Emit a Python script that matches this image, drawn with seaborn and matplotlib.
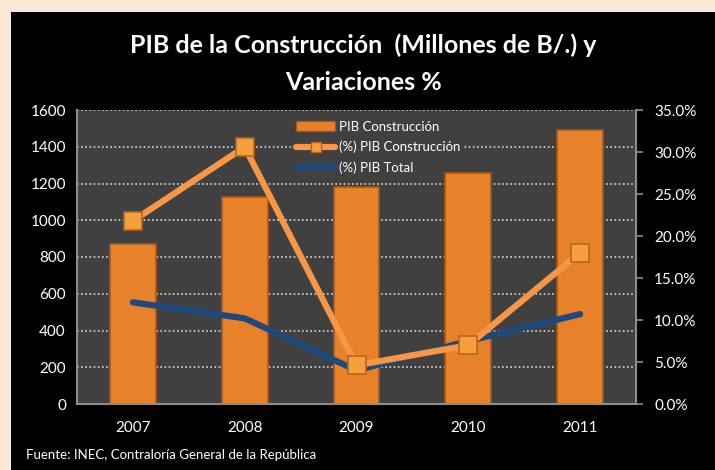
import matplotlib
matplotlib.use('Agg')
import matplotlib.pyplot as plt
import seaborn as sns
import pandas as pd
from matplotlib.patches import Rectangle, Patch
from matplotlib.lines import Line2D
from matplotlib.ticker import PercentFormatter

# datos
years = ['2007', '2008', '2009', '2010', '2011']
pib_construccion = [871, 1127, 1181, 1257, 1491]
var_construccion = [21.8, 30.6, 4.6, 7.0, 18.0]
var_total = [12.1, 10.2, 4.0, 7.5, 10.7]

df = pd.DataFrame({'year': years, 'pib': pib_construccion,
                   'var_c': var_construccion, 'var_t': var_total})

sns.set_style('dark')
plt.rcParams['font.family'] = ['Lato', 'DejaVu Sans']

fig = plt.figure(figsize=(7.15, 4.7), dpi=100)
fig.patch.set_facecolor('#FCE8D9')
# fondo negro del grafico
fig.add_artist(Rectangle((11/715, 0), 1, 1 - 12/470, transform=fig.transFigure,
                         facecolor='black', edgecolor='none', zorder=-10))

ax = fig.add_axes([77/715, 1 - 404/470, 559/715, 294/470])
ax.set_facecolor('#404040')

sns.barplot(data=df, x='year', y='pib', color='#E8822A', width=0.41,
            edgecolor='#A9561B', linewidth=1.2, saturation=1, ax=ax, zorder=2)
ax.set_ylim(0, 1600)
ax.set_yticks(range(0, 1601, 200))
ax.set_xlim(-0.5, 4.5)
ax.grid(axis='y', color='#D8D8D8', linestyle=(0, (1, 1.5)), linewidth=1.2, zorder=1)
ax.grid(axis='x', visible=False)
ax.set_axisbelow(True)
ax.set_xlabel('')
ax.set_ylabel('')
ax.tick_params(axis='both', colors='white', labelsize=11, length=0, pad=8)
ax.tick_params(axis='x', pad=12)
for s in ['left', 'bottom', 'right']:
    ax.spines[s].set_color('#8C8C8C')
    ax.spines[s].set_linewidth(1.5)
ax.spines['top'].set_visible(False)

ax2 = ax.twinx()
sns.lineplot(x=range(len(years)), y=var_total, color='#1F497D', linewidth=4.5,
             ax=ax2, zorder=3)
sns.lineplot(x=range(len(years)), y=var_construccion, color='#F79646', linewidth=4.5,
             marker='s', markersize=13, markerfacecolor='#F5A03C',
             markeredgecolor='#B8641E', markeredgewidth=1.2, ax=ax2, zorder=4)
ax2.set_ylim(0, 35)
ax2.set_yticks(range(0, 36, 5))
ax2.yaxis.set_major_formatter(PercentFormatter(decimals=1))
ax2.grid(False)
ax2.set_ylabel('')
ax2.tick_params(axis='y', colors='white', labelsize=11, length=5, width=1.2, pad=8)
ax2.tick_params(axis='y', color='#8C8C8C')
for t in ax2.get_yticklabels():
    t.set_color('white')
for s in ax2.spines.values():
    s.set_visible(False)

handles = [
    Patch(facecolor='#E8822A', edgecolor='#A9561B'),
    Line2D([], [], color='#F79646', linewidth=4.5, marker='s', markersize=7,
           markerfacecolor='#F5A03C', markeredgecolor='#B8641E'),
    Line2D([], [], color='#1F497D', linewidth=4.5),
]
labels = ['PIB Construcción', '(%) PIB Construcción', '(%) PIB Total']
# leyenda en el eje de barras, debajo de las barras
leg = ax.legend(handles, labels, loc='upper left', bbox_to_anchor=(0.375, 0.995),
                frameon=True, facecolor='#404040', edgecolor='none', framealpha=1,
                fontsize=9.5, labelcolor='white', handlelength=3.0,
                handletextpad=0.3, labelspacing=0.6, borderpad=0.2)
leg.set_zorder(1.5)

fig.text(0.508, 1 - 45/470, 'PIB de la Construcción  (Millones de B/.) y',
         ha='center', va='center', color='white', fontsize=18, fontweight='bold')
fig.text(0.508, 1 - 82/470, 'Variaciones %', ha='center', va='center',
         color='white', fontsize=18, fontweight='bold')
fig.text(26/715, 1 - 455/470, 'Fuente: INEC, Contraloría General de la República',
         ha='left', va='center', color='white', fontsize=9.5)

fig.savefig('out.png', dpi=100, facecolor=fig.get_facecolor())
